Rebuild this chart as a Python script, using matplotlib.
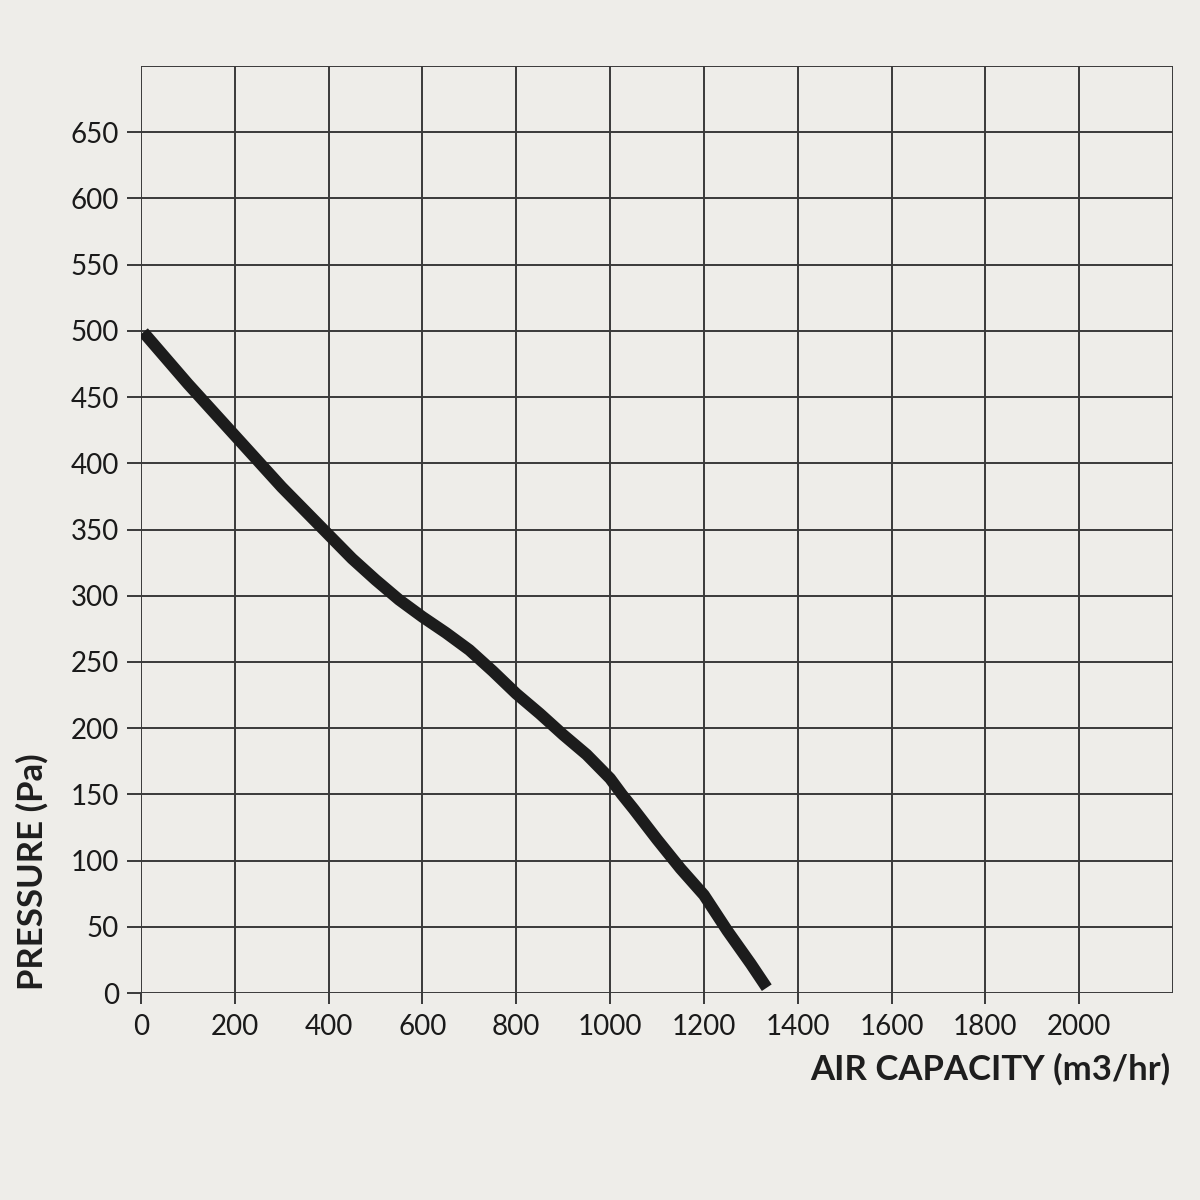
import matplotlib
matplotlib.use("Agg")
import matplotlib.pyplot as plt

# Data
air_capacity = [5, 100, 200, 300, 400, 450, 500, 550, 600, 650, 700, 750, 800, 850, 900, 950,
                975, 1000, 1025, 1050, 1100, 1150, 1200, 1250, 1300, 1334]
pressure = [499, 460, 421, 382, 346, 328, 312, 297, 284, 272, 259, 243, 226, 211, 195, 180,
            171, 162, 150, 139, 116, 94, 74, 47, 22, 4]
x_ticks = [0, 200, 400, 600, 800, 1000, 1200, 1400, 1600, 1800, 2000]
y_ticks = [0, 50, 100, 150, 200, 250, 300, 350, 400, 450, 500, 550, 600, 650]

bg = "#eeede9"
gridc = "#3a3a3a"
plt.rcParams['font.family'] = ['Lato', 'DejaVu Sans']

fig = plt.figure(figsize=(12, 12), dpi=100, facecolor=bg)
ax = fig.add_axes([0.1175, 0.1725, 0.86, 0.7725])
ax.set_facecolor(bg)
ax.set_xlim(0, 2200)
ax.set_ylim(0, 700)

for xv in range(0, 2201, 200):
    ax.axvline(xv, color=gridc, lw=1.4, zorder=1)
for yv in range(0, 701, 50):
    ax.axhline(yv, color=gridc, lw=1.4, zorder=1)
for s in ax.spines.values():
    s.set_visible(False)

ax.set_xticks(x_ticks)
ax.set_yticks(y_ticks)
ax.tick_params(axis='x', length=8, width=1.4, color=gridc, pad=7, labelsize=20, labelcolor="#1a1a1a")
ax.tick_params(axis='y', length=10, width=1.4, color=gridc, pad=6, labelsize=20, labelcolor="#1a1a1a")

ax.plot(air_capacity, pressure, color="#1c1c1c", lw=8.5, solid_capstyle='butt', solid_joinstyle='round', zorder=3)

fig.text(0.975, 0.109, "AIR CAPACITY (m3/hr)", ha='right', va='center', fontsize=25,
         fontweight='bold', color="#1e1e1e")
fig.text(0.027, 0.175, "PRESSURE (Pa)", ha='center', va='bottom', rotation=90, fontsize=25,
         fontweight='bold', color="#1e1e1e")

fig.savefig("out.png", dpi=100, facecolor=bg)
